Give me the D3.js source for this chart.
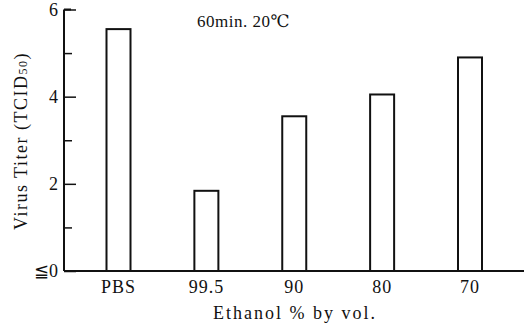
<!DOCTYPE html>
<html>
<head>
<meta charset="utf-8">
<title>Virus titer vs ethanol</title>
<script src="https://d3js.org/d3.v7.min.js"></script>
<style>
  body { margin: 0; background: #fff; }
  svg text { font-family: "Liberation Serif", "Times New Roman", "DejaVu Serif", serif; fill: #111; }
</style>
</head>
<body>
<svg width="527" height="329"></svg>
<script>
  // data
  const categories = ["PBS", "99.5", "90", "80", "70"];
  const titers = [5.55, 1.84, 3.55, 4.05, 4.9];
  const majorTicks = [0, 2, 4, 6];
  const minorTicks = [1, 3, 5];
  const majorLabels = ["≦0", "2", "4", "6"];

  const svg = d3.select("svg");
  const x0 = 64, x1 = 524, yBase = 271, yTop = 9.5;

  const y = d3.scaleLinear().domain([0, 6]).range([yBase, yTop]);
  const x = d3.scalePoint().domain(categories).range([118.5, 470]);
  const barW = 24;

  // bars
  svg.append("g")
    .selectAll("rect")
    .data(titers)
    .join("rect")
    .attr("x", (d, i) => x(categories[i]) - barW / 2)
    .attr("y", d => y(d))
    .attr("width", barW)
    .attr("height", d => yBase - y(d))
    .attr("fill", "#fff")
    .attr("stroke", "#111")
    .attr("stroke-width", 2);

  // y axis, ticks pointing inward
  const yAxis = svg.append("g")
    .attr("transform", `translate(${x0},0)`)
    .call(d3.axisLeft(y).tickValues(majorTicks).tickSize(-12).tickPadding(6)
      .tickFormat((d, i) => majorLabels[i]));
  yAxis.select(".domain").remove();
  yAxis.selectAll("line").attr("stroke", "#111").attr("stroke-width", 1.5);
  yAxis.selectAll("text").attr("font-size", 18).attr("fill", "#111");

  const yMinor = svg.append("g")
    .attr("transform", `translate(${x0},0)`)
    .call(d3.axisLeft(y).tickValues(minorTicks).tickSize(-8).tickFormat(""));
  yMinor.select(".domain").remove();
  yMinor.selectAll("line").attr("stroke", "#111").attr("stroke-width", 1.5);

  // axis lines
  svg.append("line").attr("x1", x0).attr("x2", x0).attr("y1", y(6)).attr("y2", yBase)
    .attr("stroke", "#111").attr("stroke-width", 2);
  svg.append("line").attr("x1", x0).attr("x2", x1).attr("y1", yBase).attr("y2", yBase)
    .attr("stroke", "#111").attr("stroke-width", 2);
  svg.append("line").attr("x1", x0).attr("x2", x0 + 7).attr("y1", y(6)).attr("y2", y(6))
    .attr("stroke", "#111").attr("stroke-width", 2);

  // category labels
  svg.append("g")
    .selectAll("text")
    .data(categories)
    .join("text")
    .attr("x", d => x(d))
    .attr("y", 293)
    .attr("text-anchor", "middle")
    .attr("font-size", 18)
    .attr("letter-spacing", 1)
    .text(d => d);

  // x title
  svg.append("text")
    .attr("x", 295).attr("y", 319)
    .attr("text-anchor", "middle")
    .attr("font-size", 18)
    .attr("letter-spacing", 2)
    .text("Ethanol % by vol.");

  // y title
  const yt = svg.append("text")
    .attr("transform", "translate(27,141) rotate(-90)")
    .attr("text-anchor", "middle")
    .attr("font-size", 18)
    .attr("letter-spacing", 1.5);
  yt.append("tspan").text("Virus Titer (TCID");
  yt.append("tspan").attr("font-size", 12).text("50");
  yt.append("tspan").text(")");

  // condition note
  svg.append("text")
    .attr("x", 197).attr("y", 27)
    .attr("font-size", 17)
    .attr("letter-spacing", 0.5)
    .text("60min. 20℃");
</script>
</body>
</html>
